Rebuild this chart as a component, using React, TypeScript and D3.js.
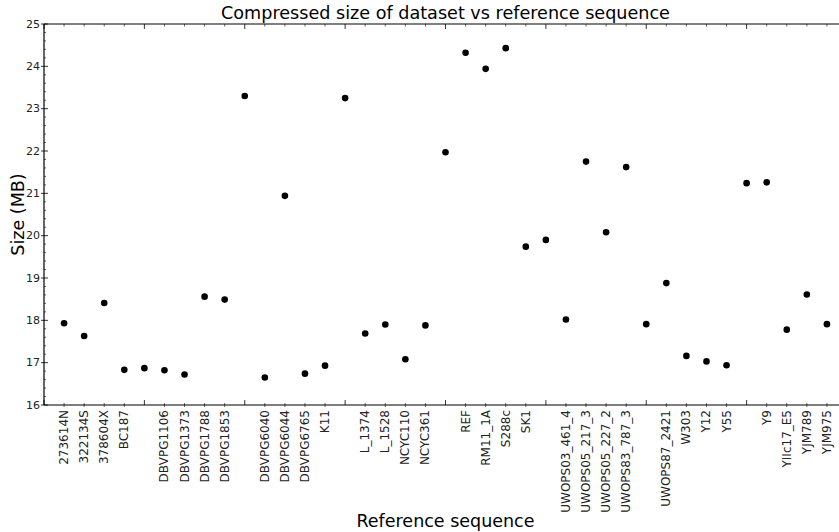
import React from "react";
import * as d3 from "d3";

const strains: string[] = [
  "273614N", "322134S", "378604X", "BC187", "",
  "DBVPG1106", "DBVPG1373", "DBVPG1788", "DBVPG1853", "",
  "DBVPG6040", "DBVPG6044", "DBVPG6765", "K11", "",
  "L_1374", "L_1528", "NCYC110", "NCYC361", "",
  "REF", "RM11_1A", "S288c", "SK1", "",
  "UWOPS03_461_4", "UWOPS05_217_3", "UWOPS05_227_2", "UWOPS83_787_3", "",
  "UWOPS87_2421", "W303", "Y12", "Y55", "",
  "Y9", "YIIc17_E5", "YJM789", "YJM975",
];

const sizesMB: number[] = [
  17.93, 17.63, 18.41, 16.83, 16.87,
  16.82, 16.72, 18.56, 18.49, 23.30,
  16.65, 20.94, 16.74, 16.93, 23.25,
  17.69, 17.90, 17.08, 17.88, 21.97,
  24.32, 23.94, 24.43, 19.74, 19.90,
  18.02, 21.75, 20.08, 21.62, 17.91,
  18.88, 17.16, 17.03, 16.94, 21.24,
  21.26, 17.78, 18.61, 17.91,
];

const yTicks: number[] = [16, 17, 18, 19, 20, 21, 22, 23, 24, 25];

const W = 839;
const H = 532;
const left = 44;
const right = 847;
const top = 24;
const bottom = 405;
const font = "DejaVu Sans, sans-serif";

export default function App() {
  const x = d3.scaleLinear().domain([0, 40]).range([left, right]);
  const y = d3.scaleLinear().domain([16, 25]).range([bottom, top]);

  const minorY = d3.range(16, 25.001, 0.2).filter(
    (v) => Math.abs(v - Math.round(v)) > 1e-6
  );
  const allX = d3.range(0, 41);
  const majorX = allX.filter((v) => v % 5 === 0);
  const minorX = allX.filter((v) => v % 5 !== 0);

  return (
    <svg
      width={W}
      height={H}
      style={{ position: "absolute", left: 0, top: 0, background: "#fff" }}
      fontFamily={font}
    >
      <rect x={0} y={0} width={W} height={H} fill="#fff" />
      {/* spines */}
      <line x1={left} x2={left} y1={top} y2={bottom} stroke="#000" strokeWidth={1.2} />
      <line x1={left} x2={right} y1={bottom} y2={bottom} stroke="#000" strokeWidth={1.2} />
      <line x1={left} x2={right} y1={top} y2={top} stroke="#000" strokeWidth={1.2} />
      <line x1={right} x2={right} y1={top} y2={bottom} stroke="#000" strokeWidth={1.2} />

      {/* y ticks */}
      {yTicks.map((t) => (
        <g key={"yt" + t}>
          <line x1={left - 3} x2={left + 4} y1={y(t)} y2={y(t)} stroke="#000" strokeWidth={0.8} />
          <line x1={right - 4} x2={right} y1={y(t)} y2={y(t)} stroke="#000" strokeWidth={0.8} />
          <text
            x={left - 4}
            y={y(t)}
            textAnchor="end"
            dominantBaseline="central"
            fontSize={11}
            fill="#222"
          >
            {t}
          </text>
        </g>
      ))}
      {minorY.map((t) => (
        <line key={"ym" + t} x1={left} x2={left + 2} y1={y(t)} y2={y(t)} stroke="#000" strokeWidth={0.6} />
      ))}

      {/* x ticks */}
      {majorX.map((t) => (
        <g key={"xM" + t}>
          <line x1={x(t)} x2={x(t)} y1={bottom} y2={bottom - 5} stroke="#000" strokeWidth={0.8} />
          <line x1={x(t)} x2={x(t)} y1={top} y2={top + 5} stroke="#000" strokeWidth={0.8} />
        </g>
      ))}
      {minorX.map((t) => (
        <g key={"xm" + t}>
          <line x1={x(t)} x2={x(t)} y1={bottom - 2} y2={bottom + 2} stroke="#000" strokeWidth={0.6} />
          <line x1={x(t)} x2={x(t)} y1={top} y2={top + 2.5} stroke="#000" strokeWidth={0.6} />
        </g>
      ))}

      {/* x tick labels */}
      {strains.map((s, i) =>
        s ? (
          <text
            key={"xl" + i}
            transform={`translate(${x(i + 1)},${bottom + 5}) rotate(-90)`}
            textAnchor="end"
            dominantBaseline="central"
            fontSize={12}
            fill="#222"
          >
            {s}
          </text>
        ) : null
      )}

      {/* points */}
      {sizesMB.map((v, i) => (
        <circle key={"p" + i} cx={x(i + 1)} cy={y(v)} r={3.3} fill="#000" />
      ))}

      {/* titles */}
      <text x={(left + right) / 2} y={19} textAnchor="middle" fontSize={17.6} fill="#000">
        Compressed size of dataset vs reference sequence
      </text>
      <text x={(left + right) / 2} y={527} textAnchor="middle" fontSize={17.5} fill="#000">
        Reference sequence
      </text>
      <text
        transform={`translate(24,${(top + bottom) / 2}) rotate(-90)`}
        textAnchor="middle"
        fontSize={17.5}
        fill="#000"
      >
        Size (MB)
      </text>
    </svg>
  );
}
